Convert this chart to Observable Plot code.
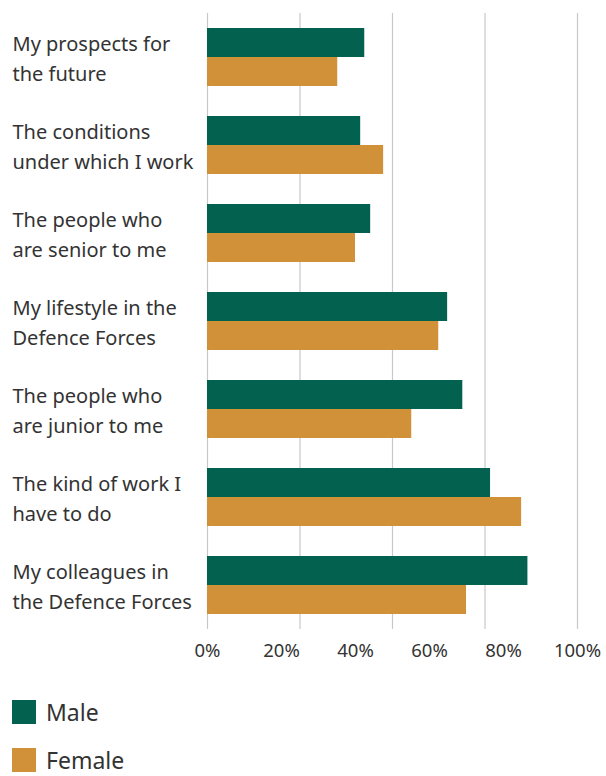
<!DOCTYPE html>
<html><head><meta charset="utf-8">
<script src="https://cdn.jsdelivr.net/npm/d3@7"></script>
<script src="https://cdn.jsdelivr.net/npm/@observablehq/plot@0.6"></script>
<style>
body{margin:0;background:#fff;font-family:"Noto Sans",sans-serif;color:#333;}
#chart svg{display:block;}
#legend{padding:20px 0 0 12px;}
.item{display:flex;align-items:center;height:24px;margin-bottom:24px;font-size:23px;}
.sw{width:24px;height:24px;margin-right:10px;flex:none;}
</style></head><body><div id="chart"></div><div id="legend"></div>
<script>
const categories = [
  "My prospects for\nthe future",
  "The conditions\nunder which I work",
  "The people who\nare senior to me",
  "My lifestyle in the\nDefence Forces",
  "The people who\nare junior to me",
  "The kind of work I\nhave to do",
  "My colleagues in\nthe Defence Forces"
];
const series = ["Male", "Female"];
const male = [42.5, 41.4, 44.1, 64.9, 69.0, 76.5, 86.6];
const female = [35.2, 47.6, 40.0, 62.5, 55.2, 84.9, 70.0];
const xTicks = [0, 20, 40, 60, 80, 100];
const gridTicks = [0, 25, 50, 75, 100];
const colors = ["#02614F", "#D19139"];

const data = categories.flatMap((c, i) => [
  {category: c, sex: "Male", value: male[i]},
  {category: c, sex: "Female", value: female[i]}
]);

const chart = Plot.plot({
  width: 606, height: 680,
  marginLeft: 207, marginRight: 29, marginTop: 11, marginBottom: 50,
  style: {fontFamily: '"Noto Sans", sans-serif', fontSize: "18px", color: "#333", background: "#fff"},
  x: {domain: [0, 100], label: null},
  y: {domain: series, paddingInner: 0, paddingOuter: 0.47, axis: null},
  fy: {domain: categories, padding: 0, label: null, axis: null},
  color: {domain: series, range: colors},
  marks: [
    Plot.gridX(gridTicks, {stroke: "#c8c8c8", strokeOpacity: 1, strokeWidth: 1.2}),
    Plot.barX(data, {x: "value", y: "sex", fy: "category", fill: "sex"}),
    Plot.axisX(xTicks, {tickSize: 0, tickPadding: 14, tickFormat: d => d + "%", fontSize: 18.5, label: null}),
    Plot.axisFy({anchor: "left", tickSize: 0, tickPadding: 0, textAnchor: "start", dx: -195, dy: -1, lineHeight: 1.48, fontSize: 20, label: null})
  ]
});
document.getElementById("chart").appendChild(chart);

const legend = document.getElementById("legend");
series.forEach((s, i) => {
  const item = document.createElement("div");
  item.className = "item";
  const sw = document.createElement("span");
  sw.className = "sw";
  sw.style.background = colors[i];
  const t = document.createElement("span");
  t.textContent = s;
  item.appendChild(sw); item.appendChild(t);
  legend.appendChild(item);
});
</script>
</body></html>
